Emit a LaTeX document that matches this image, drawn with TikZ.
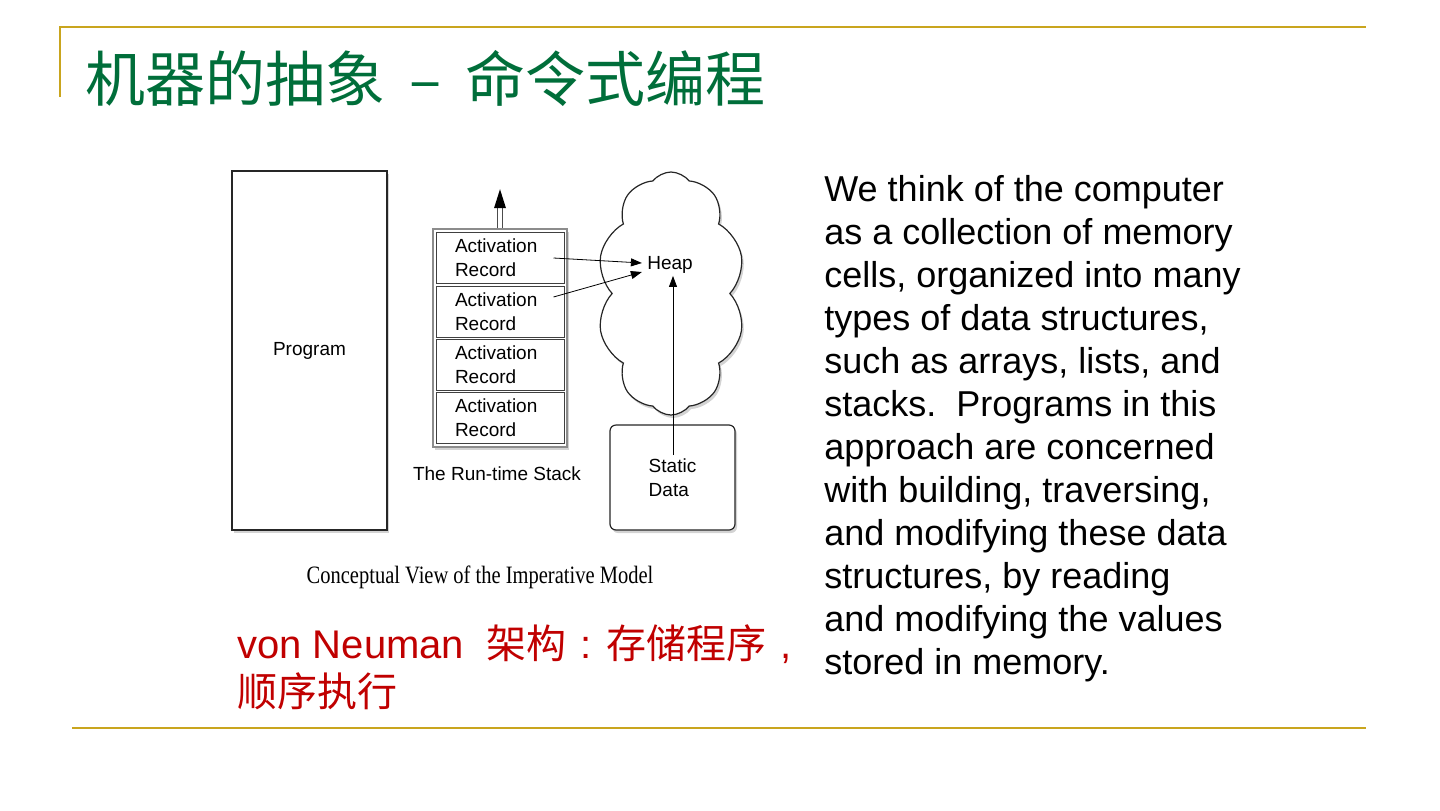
\documentclass[tikz,border=0pt]{standalone}
\usepackage{fontspec}
\setmainfont{Liberation Sans}
\newfontfamily\cjk{Noto Sans CJK SC}
\newfontfamily\capfont{Liberation Serif}
\usepackage{xcolor}
\usetikzlibrary{arrows.meta, positioning, shapes.symbols, shadows, calc}
\definecolor{slidegold}{RGB}{201,165,30}
\definecolor{titlegreen}{RGB}{0,110,58}
\definecolor{notered}{RGB}{192,0,0}
\newcommand{\widepunct}[1]{\makebox[1em][c]{#1}}

\begin{document}
\begin{tikzpicture}[
  x=0.5pt, y=-0.5pt,
  >={Triangle[length=5.5pt,width=4pt]},
  rule/.style={draw=slidegold, line width=1pt},
  shadowed/.style={drop shadow={opacity=0.35, shadow xshift=1pt, shadow yshift=-1.5pt}},
  small/.style={font=\fontsize{9.5}{12}\selectfont},
  prog/.style={rectangle, draw=black!85, fill=white, line width=0.6pt, shadowed, small,
    minimum width=77.5pt, minimum height=179.5pt},
  frame/.style={rectangle, draw=black!45, fill=white, line width=0.8pt, shadowed,
    minimum width=67pt, minimum height=109pt},
  record/.style={rectangle, draw=black!75, line width=0.5pt, small, align=left,
    text width=45pt, inner xsep=9.5pt, minimum height=25.5pt},
  heapcloud/.style={cloud, cloud puffs=10, cloud puff arc=105, aspect=0.6, draw=black!85,
    fill=white, line width=0.6pt, shadowed, minimum width=74pt, minimum height=121.5pt},
  statbox/.style={rectangle, rounded corners=3pt, draw=black!85, fill=white, line width=0.6pt,
    shadowed, small, align=left, minimum width=62.5pt, minimum height=52.5pt},
  ptr/.style={->, line width=0.4pt},
  shaft/.style={draw=black!70, double=white, double distance=1.6pt, line width=0.5pt},
  body/.style={font=\fontsize{18}{21.5}\selectfont, align=left, inner sep=0pt}
]
  \useasboundingbox (0,0) rectangle (1440,810);

  % slide frame
  \draw[rule] (60,97) -- (60,27) -- (1366,27);
  \draw[rule] (72,728) -- (1366,728);
  \node[anchor=west, inner sep=0pt, text=titlegreen, font=\cjk\fontsize{30}{36}\selectfont]
    (title) at (85,78) {机器的抽象\hspace{0.4em}–\hspace{0.4em}命令式编程};

  % the model
  \node[prog] (program) at (309.5,350.5) {Program};

  \node[frame] (stack) at (500,338) {};
  \foreach \i/\y in {1/258,2/312,3/365,4/418}
    \node[record] (ar\i) at (500,\y) {Activation\\Record};
  \node[small] (stacklbl) at (497,474) {The Run-time Stack};

  \draw[shaft] (stack.north) -- ++(0,-20) coordinate (tipbase);
  \fill[black] ($(tipbase)+(-6,0)$) -- ($(tipbase)+(0,-19)$) coordinate (tipend)
    -- ($(tipbase)+(6,0)$) -- cycle;

  \node[heapcloud] (cloud) at (671,293.5) {};
  \node[small, inner sep=1pt] (heap) at (670,265) {Heap};

  \node[statbox] (static) at (672.5,477.5) {Static\\Data};
  \coordinate (src) at (673,455);

  \draw[ptr] ($(ar1.east)+(-11,0)$) -- ($(heap.west)+(-3,-2)$);
  \draw[ptr] ($(ar2.east)+(-11,-15)$) -- ($(heap.west)+(-3,7)$);
  \draw[ptr] (src) -- (src |- heap.south);

  \node[inner sep=0pt, font=\capfont\fontsize{12.5}{14}\selectfont] (caption) at (480,577)
    {\scalebox{0.82}[1]{Conceptual View of the Imperative Model}};

  % notes (base anchor sits on the last line)
  \node[body, anchor=base west] (notes) at (824,674)
    {We think of the computer\\as a collection of memory\\cells, organized into many\\types of data structures,\\such as arrays, lists, and\\stacks.\ \ Programs in this\\approach are concerned\\with building, traversing,\\and modifying these data\\structures, by reading\\and modifying the values\\stored in memory.};

  \node[anchor=base west, inner sep=0pt, text=notered, align=left,
    font=\fontsize{20}{24}\selectfont] (vonneuman) at (237,706)
    {von Neuman\ \ {\cjk 架构}\widepunct{:}{\cjk 存储程序}\widepunct{,}\\{\cjk 顺序执行}};
\end{tikzpicture}
\end{document}
